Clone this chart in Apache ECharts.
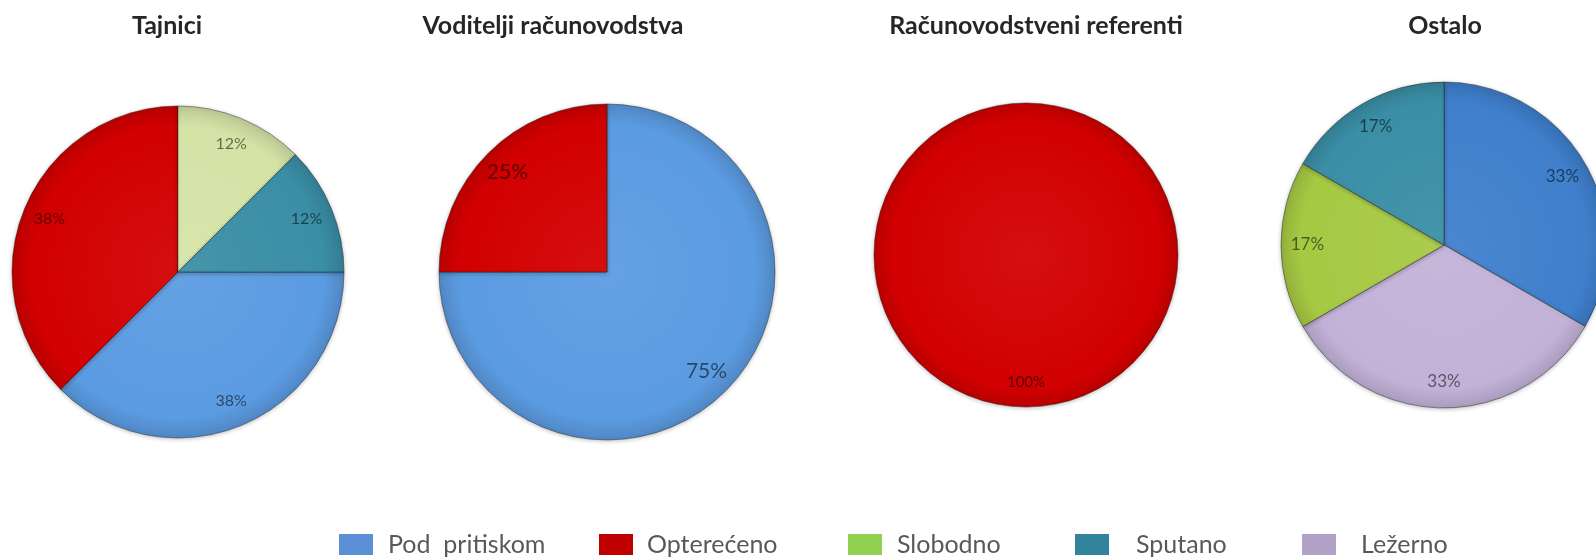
<!DOCTYPE html>
<html>
<head>
<meta charset="utf-8">
<title>Pie charts</title>
<style>
  html, body { margin: 0; padding: 0; background: #fff; }
  #chart { width: 1596px; height: 557px; }
</style>
<script src="https://cdn.jsdelivr.net/npm/echarts@6/dist/echarts.min.js"></script>
</head>
<body>
<div id="chart"></div>
<script>
// data (counts behind the shown percentages)
const chartTitles = ['Tajnici', 'Voditelji računovodstva', 'Računovodstveni referenti', 'Ostalo']
const tajniciCats = ['Pod  pritiskom', 'Opterećeno', 'Slobodno', 'Sputano']
const tajniciValues = [3, 3, 1, 1]
const voditeljiCats = ['Pod  pritiskom', 'Opterećeno']
const voditeljiValues = [3, 1]
const referentiCats = ['Opterećeno']
const referentiValues = [1]
const ostaloCats = ['Pod  pritiskom', 'Ležerno', 'Slobodno', 'Sputano']
const ostaloValues = [2, 2, 1, 1]
const legendNames = ['Pod  pritiskom', 'Opterećeno', 'Slobodno', 'Sputano', 'Ležerno']

// styles
const font = 'Lato, "Open Sans", sans-serif'
const legendColors = {
  'Pod  pritiskom': '#5b8fd6',
  'Opterećeno': '#c00000',
  'Slobodno': '#92d050',
  'Sputano': '#31849b',
  'Ležerno': '#b3a2c7'
}
const sliceColors = {
  'Pod  pritiskom': '#5b9be1',
  'Opterećeno': '#d20000',
  'Slobodno': '#a6c943',
  'Sputano': '#3a8ea6',
  'Ležerno': '#c2b2d8'
}

// layout of each pie
const pies = [
  { cats: tajniciCats, values: tajniciValues, center: [178, 272], r: 166, startAngle: 0, labelSize: 16, titleX: 167,
    colors: { 'Slobodno': '#d6e3a7' } },
  { cats: voditeljiCats, values: voditeljiValues, center: [607, 272], r: 168, startAngle: 90, labelSize: 21, titleX: 553,
    colors: {} },
  { cats: referentiCats, values: referentiValues, center: [1026, 255], r: 152, startAngle: 90, labelSize: 15, titleX: 1036,
    colors: {} },
  { cats: ostaloCats, values: ostaloValues, center: [1444, 245], r: 163, startAngle: 90, labelSize: 17, titleX: 1445,
    colors: { 'Pod  pritiskom': '#3f7fcc' } }
]
const legendLeft = [339, 599, 848, 1075, 1302]
const legendTextPad = [10, 9, 10, 22, 20]

function mix(hex, target, t) {
  const a = echarts.color.parse(hex)
  const b = echarts.color.parse(target)
  const c = [0, 1, 2].map(i => Math.round(a[i] + (b[i] - a[i]) * t))
  return 'rgb(' + c.join(',') + ')'
}

function sliceFill(base, pie) {
  return {
    type: 'radial',
    x: pie.center[0],
    y: pie.center[1],
    r: pie.r,
    global: true,
    colorStops: [
      { offset: 0, color: mix(base, '#ffffff', 0.06) },
      { offset: 0.88, color: base },
      { offset: 1, color: mix(base, '#000000', 0.12) }
    ]
  }
}

const series = []
pies.forEach(pie => {
  const colorOf = name => pie.colors[name] || sliceColors[name]
  const data = pie.cats.map((name, i) => ({
    name: name,
    value: pie.values[i],
    itemStyle: { color: sliceFill(colorOf(name), pie) }
  }))
  series.push({
    type: 'pie',
    center: pie.center,
    radius: [0, pie.r],
    startAngle: pie.startAngle,
    clockwise: true,
    avoidLabelOverlap: false,
    percentPrecision: 0,
    label: { show: false },
    labelLine: { show: false },
    emphasis: { disabled: true },
    itemStyle: {
      borderColor: 'rgba(30,30,30,0.45)',
      borderWidth: 1,
      shadowBlur: 4,
      shadowColor: 'rgba(0,0,0,0.25)',
      shadowOffsetY: 1
    },
    data: data
  })
  // transparent ring only carrying the labels, so they sit near the rim like Excel's
  series.push({
    type: 'pie',
    center: pie.center,
    radius: [pie.r * 0.64, pie.r],
    startAngle: pie.startAngle,
    clockwise: true,
    silent: true,
    avoidLabelOverlap: false,
    percentPrecision: 0,
    emphasis: { disabled: true },
    itemStyle: { color: 'rgba(0,0,0,0)', borderWidth: 0 },
    labelLine: { show: false },
    label: {
      show: true,
      position: 'inside',
      formatter: '{d}%',
      fontFamily: font,
      fontSize: pie.labelSize,
      color: 'rgba(0,0,0,0.55)'
    },
    data: pie.cats.map((name, i) => ({ name: name, value: pie.values[i] }))
  })
})

const option = {
  backgroundColor: '#ffffff',
  animation: false,
  legend: legendNames.map((name, i) => ({
    left: legendLeft[i],
    top: 532,
    padding: 0,
    icon: 'rect',
    itemWidth: 34,
    itemHeight: 21,
    selectedMode: false,
    textStyle: {
      fontFamily: font,
      fontSize: 25,
      color: '#595959',
      padding: [0, 0, 0, legendTextPad[i]]
    },
    data: [{ name: name, itemStyle: { color: legendColors[name], borderWidth: 0 } }]
  })),
  graphic: pies.map((pie, i) => ({
    type: 'text',
    x: pie.titleX,
    y: 26,
    style: {
      text: chartTitles[i],
      align: 'center',
      verticalAlign: 'middle',
      fontFamily: font,
      fontWeight: 'bold',
      fontSize: 25,
      fill: '#262626'
    }
  })),
  series: series
}

const chart = echarts.init(document.getElementById('chart'))
chart.setOption(option)
</script>
</body>
</html>
